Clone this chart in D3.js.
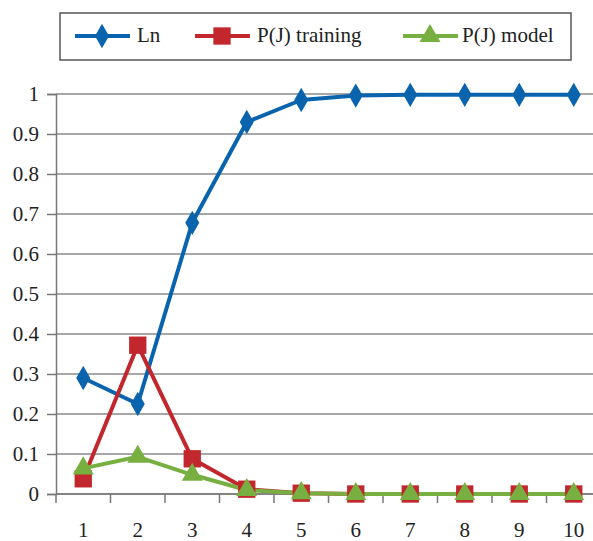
<!DOCTYPE html>
<html>
<head>
<meta charset="utf-8">
<script src="https://cdn.jsdelivr.net/npm/d3@7"></script>
<style>
  body { margin: 0; background: #fff; }
  svg text { font-family: "Liberation Serif", "Times New Roman", "DejaVu Serif", serif !important; fill: #222; }
</style>
</head>
<body>
<svg width="593" height="541"></svg>
<script>
const categories = ["1", "2", "3", "4", "5", "6", "7", "8", "9", "10"];
const lnValues = [0.29, 0.225, 0.678, 0.93, 0.985, 0.996, 0.998, 0.998, 0.998, 0.998];
const trainingValues = [0.038, 0.372, 0.088, 0.012, 0.002, 0, 0, 0, 0, 0];
const modelValues = [0.064, 0.093, 0.048, 0.01, 0.002, 0, 0, 0, 0, 0];
const yTicks = [0, 0.1, 0.2, 0.3, 0.4, 0.5, 0.6, 0.7, 0.8, 0.9, 1];

const series = [
    {name: "Ln", values: lnValues, color: "#0a64ad", shape: d3.symbolDiamond, size: 170},
    {name: "P(J) training", values: trainingValues, color: "#c1272d", shape: d3.symbolSquare, size: 300},
    {name: "P(J) model", values: modelValues, color: "#77b041", shape: d3.symbolTriangle, size: 190},
];

const fontSize = 21;
const svg = d3.select("svg");
const plotLeft = 56, plotTop = 94, plotBottom = 494;

const x = d3.scaleBand().domain(categories).range([plotLeft, plotLeft + 545]);
const y = d3.scaleLinear().domain([0, 1]).range([plotBottom, plotTop]);

// gridlines
svg.append("g")
    .selectAll("line")
    .data(yTicks)
    .join("line")
    .attr("x1", plotLeft).attr("x2", 593)
    .attr("y1", d => y(d)).attr("y2", d => y(d))
    .attr("stroke", "#8a8a8a")
    .attr("stroke-width", 1.5);

// y axis
const yAxis = svg.append("g")
    .attr("transform", `translate(${plotLeft},0)`)
    .call(d3.axisLeft(y).tickValues(yTicks).tickFormat(d3.format("~g")).tickSize(9).tickPadding(8));
yAxis.select(".domain").attr("stroke", "#777").attr("stroke-width", 1.5);
yAxis.selectAll(".tick line").attr("stroke", "#777").attr("stroke-width", 1.5);
yAxis.attr("font-family", null).attr("font-size", null);
yAxis.selectAll("text").style("font-size", fontSize + "px");

// x axis: ticks at band boundaries
const xAxis = svg.append("g").attr("transform", `translate(0,${plotBottom})`);
xAxis.append("line")
    .attr("x1", plotLeft).attr("x2", 593)
    .attr("stroke", "#777").attr("stroke-width", 1.5);
xAxis.selectAll(".bt")
    .data(categories)
    .join("line")
    .attr("class", "bt")
    .attr("x1", d => x(d)).attr("x2", d => x(d))
    .attr("y1", 0).attr("y2", 9)
    .attr("stroke", "#777").attr("stroke-width", 1.5);
xAxis.selectAll("text")
    .data(categories)
    .join("text")
    .attr("x", d => x(d) + x.bandwidth() / 2)
    .attr("y", 43)
    .attr("text-anchor", "middle")
    .style("font-size", fontSize + "px")
    .text(d => d);

const line = d3.line()
    .x((d, i) => x(categories[i]) + x.bandwidth() / 2)
    .y(d => y(d));

series.forEach(s => {
    svg.append("path")
        .datum(s.values)
        .attr("fill", "none")
        .attr("stroke", s.color)
        .attr("stroke-width", 4)
        .attr("stroke-linejoin", "round")
        .attr("d", line);
});

series.forEach(s => {
    svg.append("g")
        .selectAll("path")
        .data(s.values)
        .join("path")
        .attr("transform", (d, i) => `translate(${x(categories[i]) + x.bandwidth() / 2},${y(d)})`)
        .attr("d", d3.symbol().type(s.shape).size(s.size))
        .attr("fill", s.color);
});

// legend
const legend = svg.append("g");
legend.append("rect")
    .attr("x", 60).attr("y", 13)
    .attr("width", 511).attr("height", 47)
    .attr("fill", "#fff")
    .attr("stroke", "#555")
    .attr("stroke-width", 1.5);

const legendX = [75, 195, 403];
series.forEach((s, i) => {
    const g = legend.append("g").attr("transform", `translate(${legendX[i]},36)`);
    g.append("line")
        .attr("x1", 0).attr("x2", 55)
        .attr("stroke", s.color).attr("stroke-width", 4);
    g.append("path")
        .attr("transform", "translate(27,0)")
        .attr("d", d3.symbol().type(s.shape).size(s.size))
        .attr("fill", s.color);
    g.append("text")
        .attr("x", i === 2 ? 59 : 62)
        .attr("y", 6)
        .style("font-size", fontSize + "px")
        .text(s.name);
});
</script>
</body>
</html>
